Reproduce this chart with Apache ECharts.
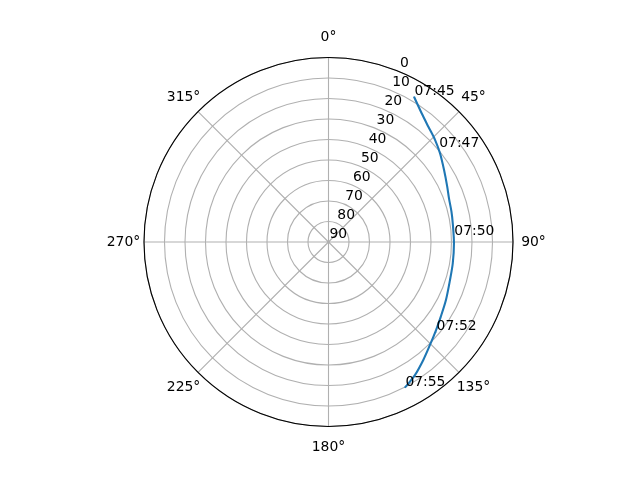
<!DOCTYPE html>
<html>
<head>
<meta charset="utf-8">
<script src="https://cdn.jsdelivr.net/npm/echarts@6/dist/echarts.min.js"></script>
<style>html,body{margin:0;padding:0;background:#fff}#c{width:640px;height:480px}</style>
</head>
<body>
<div id="c"></div>
<script>
// Satellite pass: azimuth (deg, clockwise from north) and elevation (deg)
const trackAz = [30.5, 35.9, 40.9, 46.2, 51.5, 58.1, 65.0, 70.1, 76.0, 81.4, 90.6, 99.7, 107.4, 116.3, 123.7, 129.3, 135.4, 141.2, 147.0, 152.3];
const trackEl = [7.8, 12.5, 15.6, 18.0, 20.5, 23.6, 26.1, 27.5, 28.2, 28.7, 28.8, 28.5, 27.9, 26.1, 24.2, 22.2, 19.5, 16.2, 12.6, 9.8];
// Time annotations
const timeLabels = ['07:45', '07:47', '07:50', '07:52', '07:55'];
const timeAz = [30.5, 49.7, 87.7, 129.9, 152.3];
const timeEl = [7.8, 19.5, 28.8, 21.6, 9.8];
// Tick labels
const angleTicks = [0, 45, 90, 135, 180, 225, 270, 315];
const radiusTicks = [0, 10, 20, 30, 40, 50, 60, 70, 80, 90];

const FONT = 'DejaVu Sans';
const FS = 13.9;
const center = [328.5, 242];
const R = 184.5;
const R_LABEL = 205;

const chart = echarts.init(document.getElementById('c'), null, {renderer: 'canvas'});
chart.setOption({
  animation: false,
  backgroundColor: '#ffffff',
  polar: [
    {center: center, radius: R},
    {center: center, radius: R},
    {center: center, radius: R_LABEL}
  ],
  angleAxis: [
    {
      polarIndex: 0, type: 'value', min: 0, max: 360, interval: 45,
      startAngle: 90, clockwise: true,
      axisLine: {show: true, lineStyle: {color: '#000', width: 1.1}},
      axisTick: {show: false},
      axisLabel: {show: false},
      splitLine: {show: true, lineStyle: {color: '#b0b0b0', width: 1.1}}
    },
    {
      polarIndex: 1, type: 'value', min: 0, max: 360,
      startAngle: 67.5, clockwise: true,
      axisLine: {show: false}, axisTick: {show: false},
      axisLabel: {show: false}, splitLine: {show: false}
    },
    {
      polarIndex: 2, type: 'value', min: 0, max: 360,
      startAngle: 90, clockwise: true,
      axisLine: {show: false}, axisTick: {show: false},
      axisLabel: {show: false}, splitLine: {show: false}
    }
  ],
  radiusAxis: [
    {
      polarIndex: 0, type: 'value', min: 0, max: 90, interval: 10, inverse: true,
      axisLine: {show: false}, axisTick: {show: false}, axisLabel: {show: false},
      splitLine: {show: true, lineStyle: {color: '#b0b0b0', width: 1.1}}
    },
    {
      polarIndex: 1, type: 'value', min: 0, max: 90, interval: 10, inverse: true,
      axisLine: {show: false}, axisTick: {show: false}, splitLine: {show: false},
      axisLabel: {
        show: true, margin: 0, align: 'left', verticalAlign: 'bottom',
        color: '#000', fontFamily: FONT, fontSize: FS, padding: [0, 0, 1, 1],
        showMinLabel: true, showMaxLabel: true,
        formatter: function (v) { return radiusTicks.indexOf(v) >= 0 ? String(v) : ''; }
      }
    },
    {
      polarIndex: 2, type: 'value', min: 0, max: 1,
      axisLine: {show: false}, axisTick: {show: false}, splitLine: {show: false},
      axisLabel: {show: false}
    }
  ],
  series: [
    {
      type: 'line', coordinateSystem: 'polar', polarIndex: 0,
      data: trackEl.map((e, i) => [e, trackAz[i]]),
      showSymbol: false, symbol: 'none', smooth: 0.3,
      lineStyle: {color: '#1f77b4', width: 2.1},
      z: 5
    },
    {
      type: 'scatter', coordinateSystem: 'polar', polarIndex: 0,
      data: timeEl.map((e, i) => ({value: [e, timeAz[i]], name: timeLabels[i]})),
      symbolSize: 1, clip: false,
      itemStyle: {color: '#1f77b4', opacity: 1},
      emphasis: {disabled: true},
      label: {
        show: true, position: [0, 0], align: 'left', verticalAlign: 'bottom',
        offset: [1, 2], color: '#000', opacity: 1, textBorderWidth: 0,
        fontFamily: FONT, fontSize: FS,
        formatter: function (p) { return p.name; }
      },
      z: 6
    },
    {
      type: 'scatter', coordinateSystem: 'polar', polarIndex: 2,
      data: angleTicks.map(a => ({value: [1, a], name: a + '°'})),
      symbolSize: 0, clip: false, silent: true,
      itemStyle: {color: '#000', opacity: 1},
      emphasis: {disabled: true},
      label: {
        show: true, position: 'inside', align: 'center', verticalAlign: 'middle',
        color: '#000', opacity: 1, textBorderWidth: 0,
        fontFamily: FONT, fontSize: FS,
        formatter: function (p) { return p.name; }
      },
      z: 6
    }
  ]
});
</script>
</body>
</html>
